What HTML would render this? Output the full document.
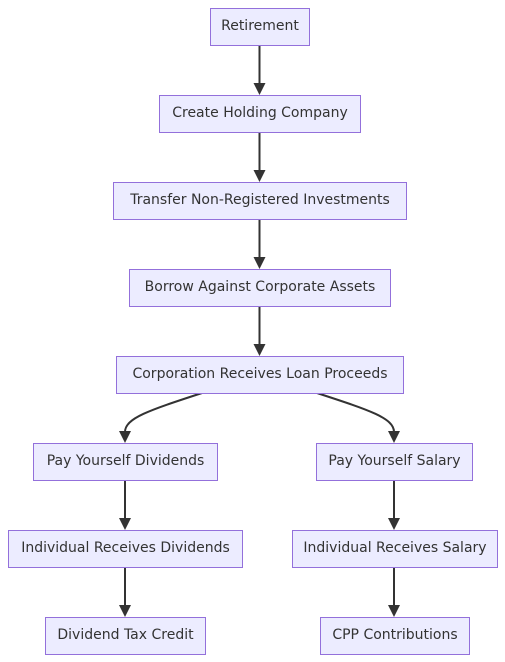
<!DOCTYPE html>
<html><head><meta charset="utf-8"><style>
html,body{margin:0;padding:0;background:#fff;}
svg{display:block;}
text{font-family:"DejaVu Sans","Liberation Sans",sans-serif;font-size:14px;fill:#333;text-anchor:middle;dominant-baseline:central;}
rect{fill:#ECECFF;stroke:#9370DB;stroke-width:1;}
.e{stroke:#333;stroke-width:2;fill:none;}
</style></head><body>
<svg width="505" height="662" viewBox="0 0 505 662" xmlns="http://www.w3.org/2000/svg">
<g>
<path class="e" d="M259.5,45V84" /><path d="M253.5,83h12l-6,12z" fill="#333"/>
<path class="e" d="M259.5,132V171"/><path d="M253.5,170h12l-6,12z" fill="#333"/>
<path class="e" d="M259.5,219V258"/><path d="M253.5,257h12l-6,12z" fill="#333"/>
<path class="e" d="M259.5,306V345"/><path d="M253.5,344h12l-6,12z" fill="#333"/>
<path class="e" d="M202,393C150,410 125,418 125,432"/><path d="M119,431h12l-6,12z" fill="#333"/>
<path class="e" d="M317,393C369,410 394,418 394,432"/><path d="M388,431h12l-6,12z" fill="#333"/>
<path class="e" d="M125,480V519"/><path d="M119,518h12l-6,12z" fill="#333"/>
<path class="e" d="M394,480V519"/><path d="M388,518h12l-6,12z" fill="#333"/>
<path class="e" d="M125,567V606"/><path d="M119,605h12l-6,12z" fill="#333"/>
<path class="e" d="M394,567V606"/><path d="M388,605h12l-6,12z" fill="#333"/>
</g>
<rect x="210.5" y="8.5" width="99" height="37"/><text x="260" y="26">Retirement</text>
<rect x="159.5" y="95.5" width="201" height="37"/><text x="260" y="113">Create Holding Company</text>
<rect x="113.5" y="182.5" width="293" height="37"/><text x="260" y="200">Transfer Non-Registered Investments</text>
<rect x="129.5" y="269.5" width="261" height="37"/><text x="260" y="287">Borrow Against Corporate Assets</text>
<rect x="116.5" y="356.5" width="287" height="37"/><text x="260" y="374">Corporation Receives Loan Proceeds</text>
<rect x="33.5" y="443.5" width="184" height="37"/><text x="125.5" y="461">Pay Yourself Dividends</text>
<rect x="316.5" y="443.5" width="156" height="37"/><text x="394.5" y="461">Pay Yourself Salary</text>
<rect x="8.5" y="530.5" width="234" height="37"/><text x="125.5" y="548">Individual Receives Dividends</text>
<rect x="292.5" y="530.5" width="205" height="37"/><text x="395" y="548">Individual Receives Salary</text>
<rect x="45.5" y="617.5" width="160" height="37"/><text x="125.5" y="635">Dividend Tax Credit</text>
<rect x="320.5" y="617.5" width="149" height="37"/><text x="395" y="635">CPP Contributions</text>
</svg>
</body></html>
